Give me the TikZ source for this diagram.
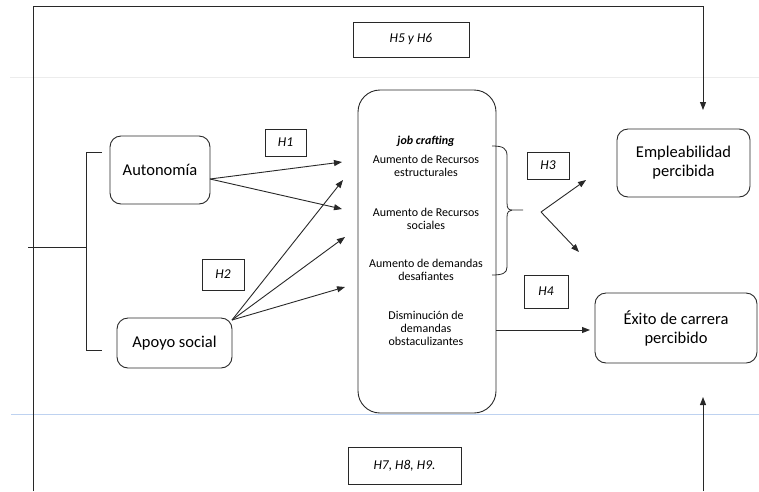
\documentclass[tikz,border=0pt]{standalone}
\usepackage{fontspec}
\setmainfont{Carlito}
\usetikzlibrary{arrows.meta}
\definecolor{ink}{RGB}{40,40,40}
\definecolor{rulegray}{RGB}{236,236,236}
\definecolor{ruleblue}{RGB}{190,210,240}
\begin{document}
\begin{tikzpicture}[x=1pt,y=-1pt,
  line width=0.9pt, draw=ink,
  arr/.style={-{Triangle[length=8pt,width=6pt]}},
  var/.style={draw=ink, rounded corners=11pt, align=center, inner sep=0pt,
    font=\fontsize{16.5}{19}\selectfont},
  hyp/.style={draw=ink, rounded corners=0pt, inner sep=0pt,
    font=\fontsize{13.5}{15}\selectfont\itshape},
  dim/.style={inner sep=0pt, align=center, font=\fontsize{12}{13}\selectfont}]
\useasboundingbox (0,0) rectangle (759,491);

% faint page rules
\draw[rulegray, line width=0.8pt] (10,77) -- (759,77);
\draw[ruleblue, line width=0.8pt] (11,414) -- (759,414);

% antecedents
\node[var, minimum width=100pt, minimum height=68pt] (auto) at (160,170) {Autonomía};
\node[var, minimum width=115pt, minimum height=50pt] (apoyo) at (174.5,343) {Apoyo social};

% job crafting block
\node[draw=ink, rounded corners=22pt, minimum width=138pt, minimum height=323pt] (jc) at (427,251.5) {};
\node[dim, font=\fontsize{12}{13}\selectfont\bfseries\itshape] (jct) at (426,141) {job crafting};
\node[dim] (d1) at (426,166) {Aumento de Recursos\\estructurales};
\node[dim] (d2) at (426,218.5) {Aumento de Recursos\\sociales};
\node[dim] (d3) at (426,270) {Aumento de demandas\\desafiantes};
\node[dim] (d4) at (426,328) {Disminución de\\demandas\\obstaculizantes};

% outcomes
\node[var, minimum width=133pt, minimum height=68pt] (emp) at (683.5,163) {Empleabilidad\\percibida};
\node[var, minimum width=162pt, minimum height=70pt] (exito) at (676,328) {Éxito de carrera\\percibido};

% hypothesis labels
\node[hyp, minimum width=41pt, minimum height=27pt] (h1) at (285.5,142.5) {H1};
\node[hyp, minimum width=42pt, minimum height=31pt] (h2) at (223,274.5) {H2};
\node[hyp, minimum width=42pt, minimum height=27pt] (h3) at (548,165.5) {H3};
\node[hyp, minimum width=44pt, minimum height=33pt] (h4) at (546,291.5) {H4};
\node[hyp, minimum width=116pt, minimum height=35pt] (h56) at (411,39.5) {H5 y H6};
\node[hyp, minimum width=113pt, minimum height=37pt] (h789) at (404.5,465.5) {H7, H8, H9.};

% arrow anchors
\coordinate (aout) at (210,179);
\coordinate (sout) at (232,320);
\coordinate (t1) at (342,162);
\coordinate (t2) at (342,209);
\coordinate (t3) at (343,180);
\coordinate (t4) at (345,237);
\coordinate (t5) at (345,287);
\coordinate (fork) at (541,212);
\coordinate (f1) at (586,180);
\coordinate (f2) at (579,252);
\coordinate (jout) at (496,330);
\coordinate (ein) at (590,330);
\coordinate (tl) at (33,6);
\coordinate (bl) at (33,491);
\coordinate (tr) at (703,6);
\coordinate (down) at (703,110);
\coordinate (br) at (703,491);
\coordinate (up) at (703,397);

% outer paths for the H5-H9 effects
\draw (bl) -- (tl) -- (tr);
\draw[arr] (tr) -- (down);
\draw[arr] (br) -- (up);

% bracket grouping the antecedents
\draw (28,247) -- (86,247);
\draw (102,152) -- (86,152) -- (86,350) -- (102,350);

% H1 and H2 paths
\draw[arr] (aout) -- (t1);
\draw[arr] (aout) -- (t2);
\draw[arr] (sout) -- (t3);
\draw[arr] (sout) -- (t4);
\draw[arr] (sout) -- (t5);

% brace over the three increasing dimensions
\draw[line width=0.8pt] (492,146) .. controls (503,146) and (507,148) .. (507,156)
  -- (507,203) .. controls (507,209) and (509,210) .. (512,210) -- (523,210);
\draw[line width=0.8pt] (512,210) .. controls (509,210) and (507,212) .. (507,217)
  -- (507,267) .. controls (507,273) and (503,275) .. (492,275);

% H3 and H4 paths
\draw[arr] (fork) -- (f1);
\draw[arr] (fork) -- (f2);
\draw[arr] (jout) -- (ein);
\end{tikzpicture}
\end{document}
